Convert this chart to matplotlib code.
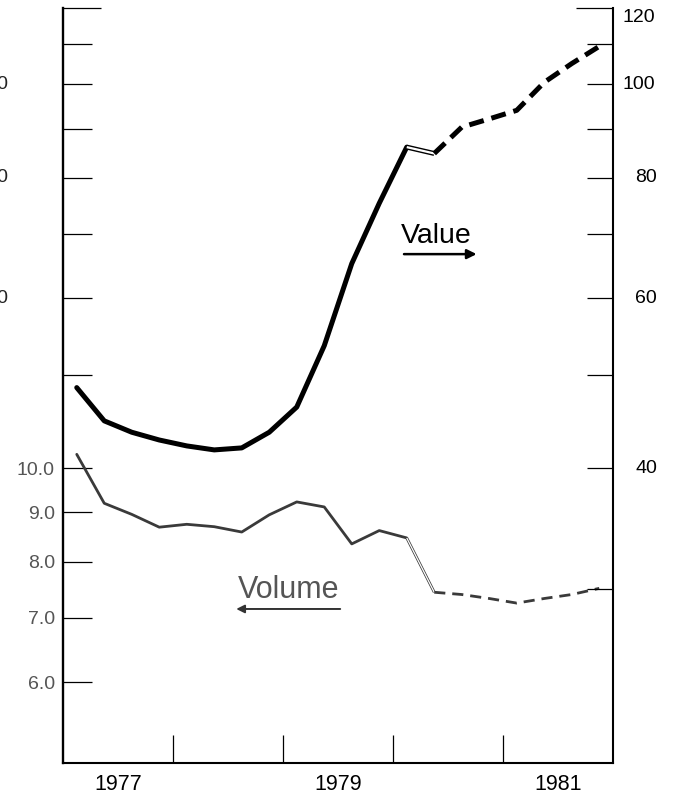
import matplotlib
matplotlib.use('Agg')
import matplotlib.pyplot as plt
import matplotlib.transforms as mtransforms
from matplotlib.ticker import FixedLocator, FixedFormatter, NullFormatter

plt.rcParams['font.family'] = ['Liberation Sans', 'DejaVu Sans']

# quarterly series, 1977 to 1981; from 1980Q2 on the figures are projections
quarters = ['1977Q1', '1977Q2', '1977Q3', '1977Q4',
            '1978Q1', '1978Q2', '1978Q3', '1978Q4',
            '1979Q1', '1979Q2', '1979Q3', '1979Q4',
            '1980Q1', '1980Q2', '1980Q3', '1980Q4',
            '1981Q1', '1981Q2', '1981Q3', '1981Q4']
value = [48.5, 44.8, 43.6, 42.8, 42.2, 41.8, 42.0, 43.6, 46.3, 53.6,
         65.2, 75.3, 86.1, 84.8, 90.3, 92.1, 94.0, 100.5, 105.1, 109.5]
volume = [10.34, 9.20, 8.96, 8.69, 8.75, 8.70, 8.59, 8.95, 9.23, 9.12,
          8.35, 8.62, 8.47, 7.44, 7.40, 7.33, 7.25, 7.33, 7.40, 7.51]
last_actual = 12

volume_ticks = [6, 7, 8, 9, 10, 12.5, 15, 17.5, 20, 22.5, 25, 27.5]
volume_labels = ['6.0', '7.0', '8.0', '9.0', '10.0']
volume_cut_labels = {15: '15.0', 20: '20.0', 25: '25.0'}
value_ticks = [30, 40, 50, 60, 70, 80, 90, 100, 110]
value_labels = [40, 60, 80, 100, 120]
year_edges = [1978, 1979, 1980, 1981]
year_labels = ['1977', '1979', '1981']


def quarter_mid(q):
    year, qn = q.split('Q')
    return int(year) + (int(qn) - 0.5) / 4


x = [quarter_mid(q) for q in quarters]


def draw_series(ax, ys, color, lw, dash, inner):
    k = last_actual
    ax.plot(x[:k + 1], ys[:k + 1], color=color, lw=lw,
            solid_joinstyle='round', solid_capstyle='round')
    # hollow link between actual and projected parts
    ax.plot(x[k:k + 2], ys[k:k + 2], color=color, lw=lw, solid_capstyle='butt')
    ax.plot(x[k:k + 2], ys[k:k + 2], color='white', lw=inner, solid_capstyle='butt')
    ax.plot(x[k + 1:], ys[k + 1:], color=color, lw=lw, linestyle=(0, dash))


fig = plt.figure(figsize=(6.77, 7.95), dpi=100)
ax = fig.add_axes([63 / 677, 1 - 763 / 795, 550 / 677, 755 / 795])
ax2 = ax.twinx()

ax.set_yscale('log')
ax2.set_yscale('log')
ax.set_ylim(4.95, 30)
ax2.set_ylim(19.8, 120)
ax.set_xlim(1977, 1982)

draw_series(ax, volume, '#3a3a3a', 2.0, (4, 2.5), 0.9)
draw_series(ax2, value, 'black', 3.6, (3, 1.6), 1.6)

for a in (ax, ax2):
    a.spines['top'].set_visible(False)
ax.spines['right'].set_visible(False)
ax2.spines['left'].set_visible(False)
ax2.spines['bottom'].set_visible(False)
ax.spines['left'].set_linewidth(1.7)
ax.spines['bottom'].set_linewidth(1.5)
ax2.spines['right'].set_linewidth(1.5)

# left axis: volume
ax.yaxis.set_major_locator(FixedLocator(volume_ticks))
ax.yaxis.set_major_formatter(FixedFormatter(volume_labels + [''] * 7))
ax.yaxis.set_minor_locator(FixedLocator([30]))
ax.yaxis.set_minor_formatter(NullFormatter())
ax.tick_params(axis='y', which='major', direction='in', length=21, width=0.9,
               pad=5.8, labelsize=14, labelcolor='#555', right=False)
ax.tick_params(axis='y', which='minor', direction='in', length=27, width=0.9,
               right=False)
left_off = mtransforms.offset_copy(ax.get_yaxis_transform(), fig=fig,
                                   x=-55, y=0, units='dots')
for v, s in volume_cut_labels.items():
    ax.text(0, v, s, transform=left_off, ha='right', va='center',
            fontsize=14, color='#222')

# right axis: value
ax2.yaxis.set_major_locator(FixedLocator(value_ticks))
ax2.yaxis.set_major_formatter(NullFormatter())
ax2.yaxis.set_minor_locator(FixedLocator([120]))
ax2.yaxis.set_minor_formatter(NullFormatter())
ax2.tick_params(axis='y', which='major', direction='in', length=19, width=0.9)
ax2.tick_params(axis='y', which='minor', direction='in', length=27, width=0.9)
for v in value_labels:
    dx = 9 if v >= 100 else 22
    dy = -9 if v == 120 else 0
    off = mtransforms.offset_copy(ax2.get_yaxis_transform(), fig=fig,
                                  x=dx, y=dy, units='dots')
    ax2.text(1, v, str(v), transform=off, ha='left', va='center',
             fontsize=14, color='black')

# years along the bottom
ax.xaxis.set_major_locator(FixedLocator(year_edges))
ax.xaxis.set_major_formatter(NullFormatter())
ax.xaxis.set_minor_locator(FixedLocator([1977.5, 1979.5, 1981.5]))
ax.xaxis.set_minor_formatter(FixedFormatter(year_labels))
ax.tick_params(axis='x', which='major', direction='in', length=20, width=0.9)
ax.tick_params(axis='x', which='minor', length=0, pad=8, labelsize=15.5)

# series captions with arrows toward their scales
ax2.text(0.678, 0.689, 'Value', transform=ax2.transAxes, ha='center',
         va='baseline', fontsize=20.5)
ax2.annotate('', xy=(0.752, 0.674), xytext=(0.62, 0.674),
             xycoords='axes fraction',
             arrowprops=dict(arrowstyle='-|>', color='black', lw=1.8,
                             mutation_scale=14, shrinkA=0, shrinkB=0))
ax2.text(0.41, 0.2185, 'Volume', transform=ax2.transAxes, ha='center',
         va='baseline', fontsize=22, color='#555')
ax2.annotate('', xy=(0.315, 0.204), xytext=(0.504, 0.204),
             xycoords='axes fraction',
             arrowprops=dict(arrowstyle='-|>', color='#333', lw=1.4,
                             mutation_scale=12, shrinkA=0, shrinkB=0))

fig.savefig('out.png', dpi=100)
